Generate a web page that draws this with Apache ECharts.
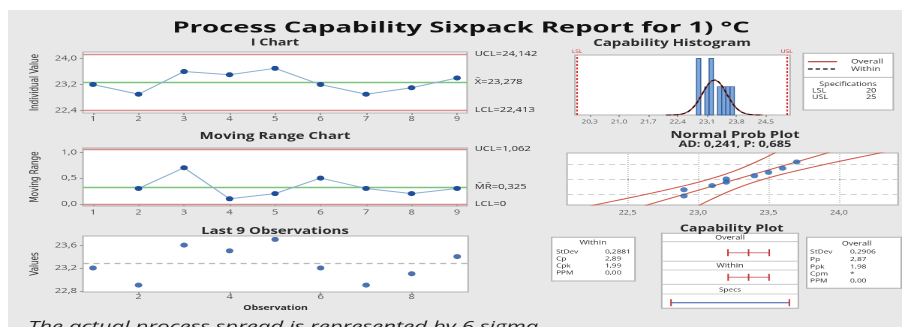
<!DOCTYPE html>
<html>
<head>
<meta charset="utf-8">
<title>Process Capability Sixpack Report</title>
<script src="https://cdn.jsdelivr.net/npm/echarts@6/dist/echarts.min.js"></script>
<style>
  html, body { margin: 0; padding: 0; background: #ffffff; overflow: hidden; }
  #panel { position: absolute; left: 8px; top: 10px; width: 894px; height: 317px; background: #e8e8e8; }
  /* the report is laid out on a 601px-wide sheet and stretched to the 902px window */
  #chart { position: absolute; left: 0; top: 0; width: 601px; height: 327px;
           transform: scaleX(1.50083); transform-origin: 0 0; }
</style>
</head>
<body>
<div id="panel"></div>
<div id="chart"></div>
<script>
// ---- data -------------------------------------------------------------
const observations = [1, 2, 3, 4, 5, 6, 7, 8, 9];
const values = [23.2, 22.9, 23.6, 23.5, 23.7, 23.2, 22.9, 23.1, 23.4];

// moving ranges start at the second observation
const mrObservations = [2, 3, 4, 5, 6, 7, 8, 9];
const movingRanges = [0.3, 0.7, 0.1, 0.2, 0.5, 0.3, 0.2, 0.3];

const I_UCL = 24.142, I_CL = 23.278, I_LCL = 22.413;
const MR_UCL = 1.062, MR_CL = 0.325, MR_LCL = 0;

const LSL = 20, USL = 25;
const MEAN = 23.278, SD_WITHIN = 0.2881, SD_OVERALL = 0.2906;
const N = 9;

// histogram bins (centre, count)
const HIST_BIN = 0.1;
const histBinCenters = [22.9, 23.1, 23.2, 23.4, 23.5, 23.6, 23.7];
const histCounts = [2, 1, 2, 1, 1, 1, 1];

// normal probability plot: ordered data and their normal scores
const sortedValues = [22.9, 22.9, 23.1, 23.2, 23.2, 23.4, 23.5, 23.6, 23.7];
const normalScores = [-1.44, -0.91, -0.56, -0.27, 0, 0.27, 0.56, 0.91, 1.44];
const probGridScores = [-1.2816, 0, 1.2816];
const CI_T = 2.0;

// capability plot intervals (low, mean, high)
const overallInterval = [22.406, 23.278, 24.150];
const withinInterval = [22.414, 23.278, 24.142];
const specInterval = [20, 25];

// tick labels
const obsTicks = observations;
const last9Ticks = [2, 4, 6, 8];
const iTicks = [22.4, 23.2, 24.0];
const mrTicks = [0, 0.5, 1.0];
const last9ValueTicks = [22.8, 23.2, 23.6];
const histTicks = [20.3, 21.0, 21.7, 22.4, 23.1, 23.8, 24.5];
const probTicks = [22.5, 23.0, 23.5, 24.0];

const withinStats = [['StDev', '0,2881'], ['Cp', '2,89'], ['Cpk', '1,99'], ['PPM', '0,00']];
const overallStats = [['StDev', '0,2906'], ['Pp', '2,87'], ['Ppk', '1,98'], ['Cpm', '*'], ['PPM', '0,00']];

// ---- styling ----------------------------------------------------------
const FONT = "'Open Sans', 'DejaVu Sans', sans-serif";
const NARROW = "'Liberation Sans Narrow', 'DejaVu Sans Condensed', sans-serif";
const TXT = '#2a2a2a';
const LIMIT = '#d68f8f';
const CENTER = '#7cc47c';
const DOT = '#1f4f98';
const LINK = '#8db0d0';
const FRAME = '#b4b4b4';

const fmt = (v, d) => v.toFixed(d).replace('.', ',');

function xAxisOf(gridIndex, min, max, ticks, decimals, fontSize, margin, extra) {
  return Object.assign({
    type: 'value', gridIndex, min, max,
    axisLine: { show: false },
    splitLine: { show: false },
    axisTick: { show: true, customValues: ticks, length: 2, lineStyle: { color: '#999' } },
    axisLabel: { customValues: ticks, formatter: v => fmt(v, decimals), fontSize,
                 color: '#555', margin, fontFamily: FONT }
  }, extra || {});
}
function yAxisOf(gridIndex, min, max, ticks, decimals, name) {
  return {
    type: 'value', gridIndex, min, max, name,
    nameLocation: 'middle', nameGap: 28,
    nameTextStyle: { fontFamily: NARROW, fontSize: 8, color: TXT },
    axisLine: { show: false },
    splitLine: { show: false },
    axisTick: { show: true, customValues: ticks, length: 2, lineStyle: { color: '#999' } },
    axisLabel: { customValues: ticks, formatter: v => fmt(v, decimals), fontSize: 7.5,
                 color: '#555', margin: 4, fontFamily: FONT }
  };
}
function hiddenAxis(gridIndex, min, max) {
  return { type: 'value', gridIndex, min, max, show: false, splitLine: { show: false } };
}
function limitLine(value, color, text, dashed) {
  return { yAxis: value, lineStyle: { color, width: 1.4, type: dashed ? 'dashed' : 'solid' },
           label: { show: !!text, formatter: text || '' } };
}

// fitted normal density scaled to the histogram counts
function normalCurve(sd) {
  const pts = [];
  const scale = N * HIST_BIN / (sd * Math.sqrt(2 * Math.PI));
  for (let k = -80; k <= 80; k++) {
    const z = k / 20;
    pts.push([MEAN + z * sd, scale * Math.exp(-z * z / 2)]);
  }
  return pts;
}
// fitted line and confidence bands of the probability plot
const fitLine = [[MEAN - 2.4 * SD_OVERALL, -2.4], [MEAN + 2.4 * SD_OVERALL, 2.4]];
const bandLow = [], bandHigh = [];
for (let k = -24; k <= 24; k++) {
  const z = k / 10;
  const c = MEAN + z * SD_OVERALL;
  const h = CI_T * SD_OVERALL * Math.sqrt(1 / N + z * z / (2 * (N - 1)));
  bandLow.push([c - h, z]);
  bandHigh.push([c + h, z]);
}

// ---- text and boxes ---------------------------------------------------
const graphics = [];
function text(str, x, y, font, align, color, extra) {
  graphics.push(Object.assign({
    type: 'text', x, y, z: 100,
    style: { text: str, font, fill: color || TXT,
             align: align || 'center', verticalAlign: 'middle',
             textAlign: align || 'center', textVerticalAlign: 'middle' }
  }, extra || {}));
}
function box(x, y, w, h) {
  graphics.push({ type: 'rect', z: 0, shape: { x, y, width: w, height: h },
                  style: { fill: '#ffffff', stroke: FRAME, lineWidth: 1 } });
}
function hline(x1, x2, y, color, dash, width) {
  graphics.push({ type: 'line', z: 1, shape: { x1, y1: y, x2, y2: y },
                  style: { stroke: color || '#c4c4c4', lineWidth: width || 0.8, lineDash: dash || null } });
}

text('Process Capability Sixpack Report for 1) °C', 307.2, 28, `bold 15px ${FONT}`, 'center', '#111', { scaleX: 1.22 });
text('I Chart', 183.2, 43, `bold 9.5px ${FONT}`);
text('Moving Range Chart', 183.2, 136, `bold 10px ${FONT}`);
text('Last 9 Observations', 183.2, 231, `bold 10px ${FONT}`);
text('Capability Histogram', 447.8, 43, `bold 10px ${FONT}`);
text('Normal Prob Plot', 489.7, 135, `bold 10px ${FONT}`);
text('AD: 0,241, P: 0,685', 489.7, 144.5, `bold 8.5px ${FONT}`);
text('Capability Plot', 487.5, 229, `bold 9.5px ${FONT}`);
graphics.push({ type: 'text', x: 18.7, y: 320, z: 100,
  style: { text: 'The actual process spread is represented by 6 sigma.', font: `italic 14.8px ${FONT}`,
           fill: '#222', align: 'left', verticalAlign: 'top', textAlign: 'left', textVerticalAlign: 'top' } });

// histogram legend
box(535.2, 53.3, 60, 56.7);
hline(535.2, 595.2, 77.3, FRAME);
hline(538.4, 557.7, 61.7, '#b03a3a', null, 1.2);
hline(538.4, 557.7, 69, '#111', [3, 2], 1.2);
text('Overall', 567, 61.7, `6.5px ${FONT}`, 'left');
text('Within', 567, 69, `6.5px ${FONT}`, 'left');
text('Specifications', 565, 84.5, `6px ${FONT}`);
text('LSL', 541, 91, `6px ${FONT}`, 'left');
text('20', 577, 91, `6px ${FONT}`, 'left');
text('USL', 541, 97.5, `6px ${FONT}`, 'left');
text('25', 577, 97.5, `6px ${FONT}`, 'left');

// within statistics table
box(367.6, 237.3, 55.5, 43.7);
text('Within', 395.1, 243, `6px ${FONT}`);
const withinRows = [251.7, 259, 266, 272.7];
withinStats.forEach((r, i) => {
  text(r[0], 370.5, withinRows[i], `5.5px ${FONT}`, 'left');
  text(r[1], 403.1, withinRows[i], `5.5px ${FONT}`, 'left');
});

// overall statistics table
box(537.5, 237.3, 63, 51);
text('Overall', 570.8, 244, `6px ${FONT}`);
const overallRows = [251.7, 259.3, 266.7, 274, 281];
overallStats.forEach((r, i) => {
  text(r[0], 539.8, overallRows[i], `5.5px ${FONT}`, 'left');
  text(r[1], 566.4, overallRows[i], `5.5px ${FONT}`, 'left');
});

// capability plot frame
box(440.9, 233.3, 91, 75);
hline(440.9, 531.9, 241.7);
hline(440.9, 531.9, 261.2);
hline(440.9, 531.9, 270);
hline(440.9, 531.9, 284.3);
hline(440.9, 531.9, 294);
text('Overall', 486.4, 237.6, `6px ${FONT}`);
text('Within', 486.4, 266, `6px ${FONT}`);
text('Specs', 486.4, 290, `5.5px ${FONT}`);

// ---- chart ------------------------------------------------------------
const plotGrid = { show: true, backgroundColor: '#ffffff', borderColor: FRAME, borderWidth: 1 };
const option = {
  animation: false,
  graphic: graphics,
  grid: [
    Object.assign({ left: 55.3, top: 52, width: 255.9, height: 61 }, plotGrid),
    Object.assign({ left: 55.3, top: 148, width: 255.9, height: 58 }, plotGrid),
    Object.assign({ left: 55.3, top: 236, width: 256.6, height: 56 }, plotGrid),
    Object.assign({ left: 383.1, top: 55, width: 143.3, height: 60 }, plotGrid),
    Object.assign({ left: 377.8, top: 153, width: 220.6, height: 52 }, plotGrid),
    { left: 441.1, top: 248.7, width: 91.3, height: 8 },
    { left: 441.1, top: 273.3, width: 91.3, height: 8 },
    { left: 441.1, top: 298.7, width: 91.3, height: 8 }
  ],
  xAxis: [
    xAxisOf(0, 0.78, 9.22, obsTicks, 0, 7.5, 2),
    xAxisOf(1, 0.78, 9.22, obsTicks, 0, 7.5, 2.5),
    xAxisOf(2, 0.78, 9.24, last9Ticks, 0, 7.5, 1, {
      name: 'Observation', nameLocation: 'middle', nameGap: 12.5,
      nameTextStyle: { fontFamily: FONT, fontSize: 7, fontWeight: 'bold', color: TXT } }),
    xAxisOf(3, 19.95, 25.08, histTicks, 1, 5.5, 4),
    xAxisOf(4, 22.07, 24.42, probTicks, 1, 6, 5),
    hiddenAxis(5, 19.62, 25.41),
    hiddenAxis(6, 19.62, 25.41),
    hiddenAxis(7, 19.62, 25.41)
  ],
  yAxis: [
    yAxisOf(0, 22.32, 24.204, iTicks, 1, 'Individual Value'),
    yAxisOf(1, -0.039, 1.081, mrTicks, 1, 'Moving Range'),
    yAxisOf(2, 22.78, 23.76, last9ValueTicks, 1, 'Values'),
    hiddenAxis(3, 0, 2.12),
    hiddenAxis(4, -2.2, 2.2),
    hiddenAxis(5, -1, 1),
    hiddenAxis(6, -1, 1),
    hiddenAxis(7, -1, 1)
  ],
  series: [
    // I chart
    {
      type: 'line', xAxisIndex: 0, yAxisIndex: 0, z: 5,
      data: observations.map((x, i) => [x, values[i]]),
      symbol: 'circle', symbolSize: 5,
      itemStyle: { color: DOT }, lineStyle: { color: LINK, width: 1 },
      markLine: {
        silent: true, symbol: 'none', z: 3,
        label: { position: 'end', distance: 5, fontSize: 7.5, color: TXT, fontFamily: FONT },
        data: [
          limitLine(I_UCL, LIMIT, 'UCL=' + fmt(I_UCL, 3)),
          limitLine(I_CL, CENTER, 'X\u0304=' + fmt(I_CL, 3)),
          limitLine(I_LCL, LIMIT, 'LCL=' + fmt(I_LCL, 3))
        ]
      }
    },
    // moving range chart
    {
      type: 'line', xAxisIndex: 1, yAxisIndex: 1, z: 5,
      data: mrObservations.map((x, i) => [x, movingRanges[i]]),
      symbol: 'circle', symbolSize: 5,
      itemStyle: { color: DOT }, lineStyle: { color: LINK, width: 1 },
      markLine: {
        silent: true, symbol: 'none', z: 3,
        label: { position: 'end', distance: 5, fontSize: 7.5, color: TXT, fontFamily: FONT },
        data: [
          limitLine(MR_UCL, LIMIT, 'UCL=' + fmt(MR_UCL, 3)),
          limitLine(MR_CL, CENTER, 'M\u0304R\u0304=' + fmt(MR_CL, 3)),
          limitLine(MR_LCL, LIMIT, 'LCL=0')
        ]
      }
    },
    // last 9 observations
    {
      type: 'scatter', xAxisIndex: 2, yAxisIndex: 2, z: 5,
      data: observations.map((x, i) => [x, values[i]]),
      symbol: 'circle', symbolSize: 5, itemStyle: { color: DOT },
      markLine: {
        silent: true, symbol: 'none', z: 3, label: { show: false },
        data: [{ yAxis: MEAN, lineStyle: { color: '#b9b9b9', width: 1.2, type: [4, 3] } }]
      }
    },
    // capability histogram
    {
      type: 'custom', xAxisIndex: 3, yAxisIndex: 3, z: 3,
      data: histBinCenters.map((c, i) => [c, histCounts[i]]),
      encode: { x: 0, y: 1 },
      renderItem(params, api) {
        const c = api.value(0), n = api.value(1);
        const p0 = api.coord([c - HIST_BIN / 2, n]);
        const p1 = api.coord([c + HIST_BIN / 2, 0]);
        return { type: 'rect',
                 shape: { x: p0[0], y: p0[1], width: p1[0] - p0[0], height: p1[1] - p0[1] },
                 style: { fill: '#7ea6da', stroke: '#2f5b95', lineWidth: 0.7 } };
      }
    },
    {
      type: 'line', xAxisIndex: 3, yAxisIndex: 3, z: 4, showSymbol: false, symbol: 'none',
      data: normalCurve(SD_OVERALL), lineStyle: { color: '#a83a3a', width: 1.1 },
      markLine: {
        silent: true, symbol: 'none', z: 4,
        lineStyle: { color: '#e02a2a', width: 1.1, type: [2, 1.5] },
        label: { position: 'end', distance: 1, fontSize: 4.5, color: '#d03030', fontFamily: FONT },
        data: [{ xAxis: LSL, label: { formatter: 'LSL' } }, { xAxis: USL, label: { formatter: 'USL' } }]
      }
    },
    {
      type: 'line', xAxisIndex: 3, yAxisIndex: 3, z: 4, showSymbol: false, symbol: 'none',
      data: normalCurve(SD_WITHIN), lineStyle: { color: '#151515', width: 1, type: [3, 2] }
    },
    // normal probability plot
    {
      type: 'line', xAxisIndex: 4, yAxisIndex: 4, z: 3, showSymbol: false, symbol: 'none',
      data: bandLow, lineStyle: { color: '#cf5a48', width: 1 },
      markLine: {
        silent: true, symbol: 'none', z: 1, label: { show: false },
        data: probTicks.map(v => ({ xAxis: v, lineStyle: { color: '#cfcfcf', width: 1, type: 'dotted' } }))
          .concat(probGridScores.map(v => ({ yAxis: v, lineStyle: { color: '#d2d2d2', width: 1, type: [4, 3] } })))
      }
    },
    {
      type: 'line', xAxisIndex: 4, yAxisIndex: 4, z: 3, showSymbol: false, symbol: 'none',
      data: bandHigh, lineStyle: { color: '#cf5a48', width: 1 }
    },
    {
      type: 'line', xAxisIndex: 4, yAxisIndex: 4, z: 3, showSymbol: false, symbol: 'none',
      data: fitLine, lineStyle: { color: '#cf5a48', width: 1 }
    },
    {
      type: 'scatter', xAxisIndex: 4, yAxisIndex: 4, z: 5,
      data: sortedValues.map((v, i) => [v, normalScores[i]]),
      symbol: 'circle', symbolSize: 5, itemStyle: { color: '#2763ad' }
    },
    // capability plot rows
    {
      type: 'line', xAxisIndex: 5, yAxisIndex: 5, z: 5,
      data: overallInterval.map(v => [v, 0]),
      symbol: 'rect', symbolSize: [1, 7],
      itemStyle: { color: '#c23a3a' }, lineStyle: { color: '#d77a7a', width: 1 }
    },
    {
      type: 'line', xAxisIndex: 6, yAxisIndex: 6, z: 5,
      data: withinInterval.map(v => [v, 0]),
      symbol: 'rect', symbolSize: [1, 7],
      itemStyle: { color: '#c23a3a' }, lineStyle: { color: '#d77a7a', width: 1 }
    },
    {
      type: 'line', xAxisIndex: 7, yAxisIndex: 7, z: 5,
      data: specInterval.map(v => [v, 0]),
      symbol: 'rect', symbolSize: [1, 7],
      itemStyle: { color: '#c23a3a' }, lineStyle: { color: '#3a5aa8', width: 1 }
    }
  ]
};

const chart = echarts.init(document.getElementById('chart'), null, { renderer: 'canvas', devicePixelRatio: 2 });
chart.setOption(option);
</script>
</body>
</html>
